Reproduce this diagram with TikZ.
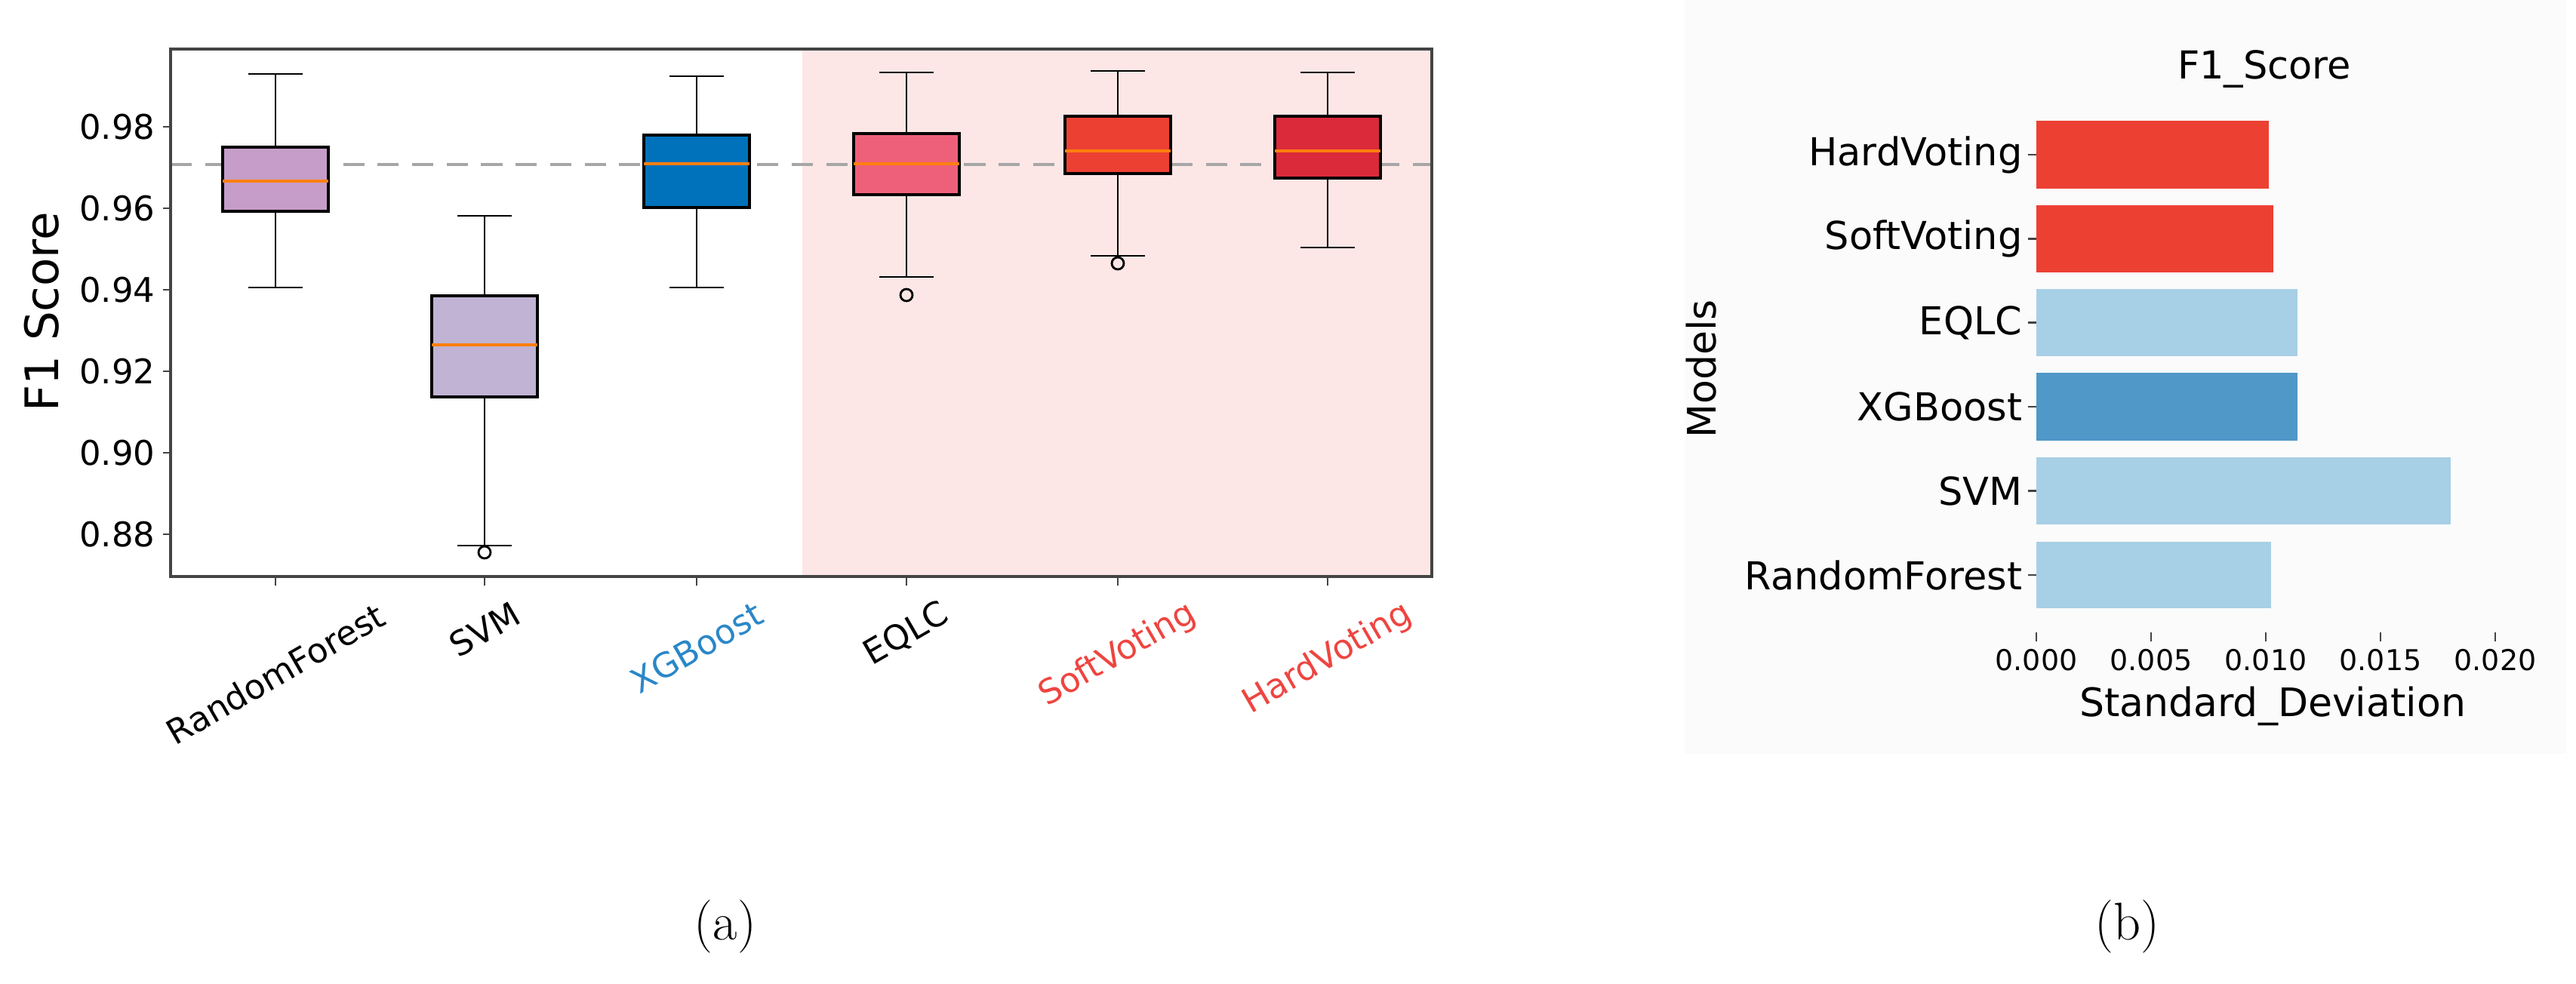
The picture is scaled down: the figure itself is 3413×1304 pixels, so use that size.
\documentclass[tikz,border=0pt]{standalone}
\usepackage{fontspec}
\setsansfont{DejaVu Sans}
\definecolor{cRF}{HTML}{C69DC8}
\definecolor{cSVM}{HTML}{C0B3D4}
\definecolor{cXGB}{HTML}{0071BB}
\definecolor{cEQ}{HTML}{EE6079}
\definecolor{cSoft}{HTML}{EC4033}
\definecolor{cHard}{HTML}{DB2A3A}
\definecolor{shadecol}{HTML}{FCE7E6}
\definecolor{lblue}{HTML}{A7CFE5}
\definecolor{mblue}{HTML}{4F98C8}
\definecolor{tblue}{HTML}{2A87C8}
\definecolor{tred}{HTML}{EE4540}
\definecolor{axc}{HTML}{444444}
\definecolor{medc}{HTML}{FF7F0E}
\definecolor{bgc}{HTML}{FBFBFB}
\newcommand{\fs}[1]{\sffamily\fontsize{#1}{#1}\selectfont}
\newcommand{\bxp}[7]{%
  \draw[wh] (#1,#2) -- (#1,#3) (#1,#5) -- (#1,#6);
  \draw[wh] (#1-36,#2) -- (#1+36,#2) (#1-36,#6) -- (#1+36,#6);
  \filldraw[fill=#7,draw=black,line width=1pt] (#1-70,#3) rectangle (#1+70,#5);
  \draw[medc,line width=1pt] (#1-70,#4) -- (#1+70,#4);
}
\begin{document}
\begin{tikzpicture}[x=0.01cm,y=-0.01cm,
  wh/.style={line width=0.8pt,black},
  ytl/.style={anchor=east,font=\fs{12.8},inner sep=0pt},
  xtl/.style={rotate=30,font=\fs{12.8},inner sep=0pt},
  cat/.style={anchor=east,font=\fs{14.5},inner sep=0pt},
  rtl/.style={anchor=north,font=\fs{10.8},inner sep=0pt}]
\useasboundingbox (0,0) rectangle (3413,1304);
% panel (a)
\fill[shadecol] (1063,65) rectangle (1897,764);
\draw[gray!70,line width=1.2pt,dash pattern=on 8pt off 5pt] (226,218) -- (1897,218);
\bxp{365}{98}{195}{240}{280}{381}{cRF}
\bxp{642}{286}{392}{457}{526}{723}{cSVM}
\draw[wh] (642,732) circle (8);
\bxp{923}{101}{179}{217}{275}{381}{cXGB}
\bxp{1201}{96}{177}{217}{258}{367}{cEQ}
\draw[wh] (1201,391) circle (8);
\bxp{1481}{94}{154}{200}{230}{339}{cSoft}
\draw[wh] (1481,349) circle (8);
\bxp{1759}{96}{154}{200}{236}{328}{cHard}
\draw[axc,line width=1pt] (226,65) rectangle (1897,764);
\foreach \v/\y in {0.98/168,0.96/276,0.94/384,0.92/492,0.90/600,0.88/708}{
  \draw[axc,line width=0.8pt] (216,\y) -- (226,\y);
  \node[ytl] at (206,\y) {\v};
}
\foreach \x in {365,642,923,1201,1481,1759}{\draw[axc,line width=0.8pt] (\x,764) -- (\x,776);}
\node[xtl] (lrf) at (365,893) {RandomForest};
\node[xtl] (lsvm) at (642,834) {SVM};
\node[xtl,text=tblue] (lxgb) at (923,858) {XGBoost};
\node[xtl] (leq) at (1201,840) {EQLC};
\node[xtl,text=tred] (lsoft) at (1481,868) {SoftVoting};
\node[xtl,text=tred] (lhard) at (1759,873) {HardVoting};
\node[rotate=90,font=\fs{17.4}] (ylab) at (55,413) {F1 Score};
\node[font=\rmfamily\fontsize{20}{22}\selectfont] (capa) at (961,1228) {(a)};
% panel (b)
\fill[bgc] (2232,0) rectangle (3400,999);
\node[font=\fs{14.5}] (title) at (3000,92) {F1\_Score};
\foreach \n/\t/\b/\r/\c in {HardVoting/160/250/3006/cSoft, SoftVoting/272/361/3012/cSoft, EQLC/383/472/3044/lblue, XGBoost/494/584/3044/mblue, SVM/606/695/3247/lblue, RandomForest/718/806/3009/lblue}{
  \fill[\c] (2698,\t) rectangle (\r,\b);
  \draw[axc,line width=0.6pt] (2687,{(\t+\b)/2}) -- (2698,{(\t+\b)/2});
  \node[cat] at (2680,{(\t+\b)/2}) {\n};
}
\foreach \v/\x in {0.000/2698,0.005/2850,0.010/3002,0.015/3154,0.020/3306}{
  \draw[axc,line width=0.6pt] (\x,838) -- (\x,850);
  \node[rtl] at (\x,860) {\v};
}
\node[font=\fs{14.8}] (xlab) at (3011,936) {Standard\_Deviation};
\node[rotate=90,font=\fs{14.8}] (mlab) at (2254,489) {Models};
\node[font=\rmfamily\fontsize{20}{22}\selectfont] (capb) at (2818,1228) {(b)};
\end{tikzpicture}
\end{document}
